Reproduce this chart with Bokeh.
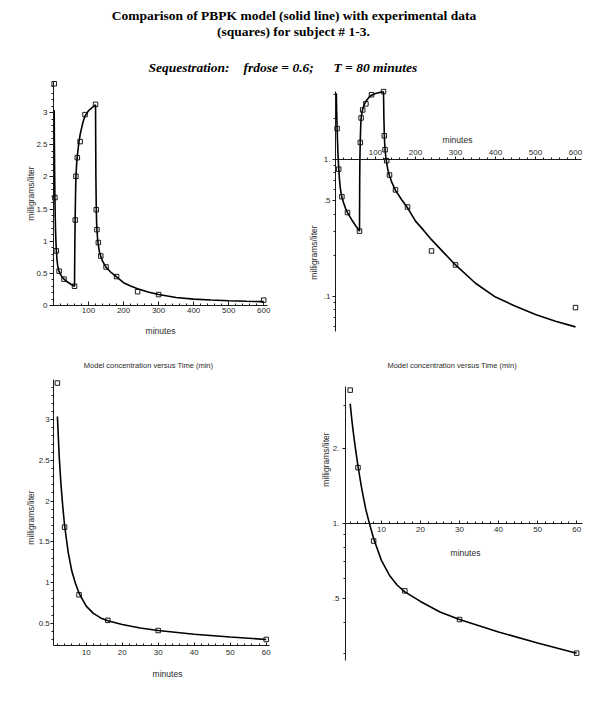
import numpy as np
from bokeh.plotting import figure
from bokeh.layouts import column, row
from bokeh.models import Range1d, FixedTicker, Label
from bokeh.embed import file_html
from bokeh.resources import INLINE

# ---------------- texts ----------------
TITLE_1 = "Comparison of PBPK model (solid line) with experimental data"
TITLE_2 = "(squares) for subject # 1-3."
SUB_PARTS = ["Sequestration:", "frdose = 0.6;", "T = 80 minutes"]
PANEL_TITLE = "Model concentration versus Time (min)"
X_LABEL = "minutes"
Y_LABEL = "milligrams/liter"

# ---------------- data ----------------
t_data = [2, 4, 8, 16, 30, 60, 62, 64, 68, 76, 90, 120, 122, 124, 128, 135, 150, 180, 240, 300, 600]
c_data = [3.45, 1.68, 0.85, 0.535, 0.41, 0.30, 1.33, 2.01, 2.30, 2.55, 2.97, 3.13, 1.49, 1.18, 0.98,
          0.77, 0.60, 0.45, 0.215, 0.17, 0.083]

t_model = [2, 2.5, 3, 3.5, 4, 5, 6, 7, 8, 10, 12, 14, 16, 20, 25, 30, 40, 50, 60,
           60.5, 61, 62, 63, 64, 66, 68, 72, 76, 84, 90, 100, 110, 120,
           120.5, 121, 122, 123, 124, 126, 128, 131, 135, 140, 150, 165, 180, 200, 220, 240,
           270, 300, 350, 400, 450, 500, 550, 600]
c_model = [3.04, 2.55, 2.2, 1.93, 1.70, 1.37, 1.14, 0.99, 0.87, 0.71, 0.62, 0.565, 0.53, 0.485, 0.44, 0.41,
           0.365, 0.33, 0.30,
           0.7, 1.0, 1.4, 1.75, 2.0, 2.2, 2.33, 2.52, 2.66, 2.85, 2.95, 3.03, 3.08, 3.12,
           2.5, 2.0, 1.55, 1.3, 1.17, 1.03, 0.94, 0.84, 0.76, 0.69, 0.595, 0.51, 0.445, 0.355, 0.305, 0.26,
           0.21, 0.17, 0.125, 0.099, 0.085, 0.074, 0.066, 0.060]

# ---------------- ticks ----------------
x_ticks_long = [100, 200, 300, 400, 500, 600]
x_minor_long = [v for v in range(20, 620, 20) if v % 100 != 0]
x_ticks_short = [10, 20, 30, 40, 50, 60]
x_minor_short = [v for v in range(2, 62, 2) if v % 10 != 0]
y_ticks_lin = [0, 0.5, 1, 1.5, 2, 2.5, 3]
y_labels_lin = ["0", "0.5", "1", "1.5", "2", "2.5", "3"]
y_minor_lin = [round(0.1 * i, 1) for i in range(1, 35) if i % 5 != 0]
y_ticks_log_a = [0.1, 0.5, 1]
y_labels_log_a = [".1", ".5", "1."]
y_minor_log_a = [0.06, 0.07, 0.08, 0.09, 0.2, 0.3, 0.4, 0.6, 0.7, 0.8, 0.9, 2, 3]
y_ticks_log_b = [0.5, 1, 2]
y_labels_log_b = [".5", "1.", "2."]
y_minor_log_b = [0.3, 0.4, 0.6, 0.7, 0.8, 0.9, 3]

# axis extents of each panel (as drawn in the original)
P1_X = (0, 610); P1_Y = (0, 3.49)
P2_X = (0, 615); P2_Y = (0.0558, 3.16)
P3_X = (1, 61); P3_Y = (0.226, 3.49)
P4_X = (0.8, 61.5); P4_Y = (0.279, 3.57)

SANS = "Liberation Sans"
SERIF = "Liberation Serif"
INK = "#1a1a1a"
TXT = "#2a2a2a"


def span(v0, p0, v1, p1, q0, q1, log=False):
    f = np.log10 if log else (lambda v: v)
    k = (f(v1) - f(v0)) / (p1 - p0)
    a = f(v0) + (q0 - p0) * k
    b = f(v0) + (q1 - p0) * k
    if log:
        a, b = 10 ** a, 10 ** b
    return a, b


def panel(left, top, w, h, xmap, ymap, ylog=False, xloc="below", border_top=0):
    x0, x1 = span(*xmap, left, left + w)
    ytop, ybot = span(*ymap, top + border_top, top + h, ylog)
    p = figure(width=w, height=h, x_range=Range1d(x0, x1), y_range=Range1d(ybot, ytop),
               y_axis_type="log" if ylog else "linear", x_axis_location=xloc,
               toolbar_location=None, output_backend="svg",
               min_border_left=0, min_border_right=0, min_border_top=border_top, min_border_bottom=0)
    p.outline_line_color = None
    p.grid.visible = False
    p.background_fill_color = "white"
    p.border_fill_color = "white"
    for ax in p.axis:
        ax.axis_line_color = INK
        ax.axis_line_width = 1
        ax.major_tick_line_color = INK
        ax.minor_tick_line_color = INK
        ax.major_label_text_font = SANS
        ax.major_label_text_font_size = "8px"
        ax.major_label_text_color = TXT
    p._box = (left, top + h)
    return p


def set_axis(ax, fixed, bounds, ticks, minor, t_in, t_out, m_in, m_out, standoff, labels=None):
    ax.fixed_location = fixed
    ax.bounds = bounds
    ax.ticker = FixedTicker(ticks=ticks, minor_ticks=minor)
    ax.major_tick_in = t_in
    ax.major_tick_out = t_out
    ax.minor_tick_in = m_in
    ax.minor_tick_out = m_out
    ax.major_label_standoff = standoff
    if labels is not None:
        ax.major_label_overrides = {k: s for k, s in zip(ticks, labels)}


def lab(p, X, Y, text, size="8.5px", angle=0.0, align="center", font=SANS, style="normal", color=TXT):
    left, bottom = p._box
    p.add_layout(Label(x=X - left, y=bottom - Y, x_units="screen", y_units="screen", text=text,
                       text_font=font, text_font_size=size, text_font_style=style,
                       text_color=color, text_align=align, text_baseline="middle", angle=angle))


def draw(p, t, c):
    p.line(t, c, line_color="black", line_width=1.6)


def marks(p, t, c):
    p.scatter(t, c, marker="square", size=4.5, fill_alpha=0, line_color="black", line_width=0.9)


t_short = [t for t in t_data if t <= 60]
c_short = [c for t, c in zip(t_data, c_data) if t <= 60]
tm_short = [t for t in t_model if t <= 60]
cm_short = [c for t, c in zip(t_model, c_model) if t <= 60]

# ---------------- title figure ----------------
pt = figure(width=600, height=80, x_range=Range1d(0, 1), y_range=Range1d(0, 1),
            x_axis_type=None, y_axis_type=None, toolbar_location=None, output_backend="svg",
            min_border_left=0, min_border_right=0, min_border_top=0, min_border_bottom=0)
pt.outline_line_color = None
pt.grid.visible = False
pt._box = (0, 80)
lab(pt, 293.5, 15, TITLE_1, size="13.5px", font=SERIF, style="bold", color="black")
lab(pt, 293, 31, TITLE_2, size="13.5px", font=SERIF, style="bold", color="black")
for xpos, part in zip([148, 243, 333], SUB_PARTS):
    lab(pt, xpos, 67, part, size="13.5px", font=SERIF, style="bold italic", color="black", align="left")

# ---------------- panel 1: linear, 0-600 ----------------
p1 = panel(0, 80, 300, 265, (0, 53, 610, 266.7), (0, 305, 3.49, 80.7))
set_axis(p1.xaxis[0], 0, P1_X, x_ticks_long, x_minor_long, 4, 0, 2, 0, 2)
set_axis(p1.yaxis[0], 0, P1_Y, y_ticks_lin, y_minor_lin, 0, 4, 0, 2, 2, y_labels_lin)
lab(p1, 160, 330, X_LABEL)
lab(p1, 30, 193, Y_LABEL, angle=np.pi / 2)
draw(p1, t_model, c_model)
marks(p1, t_data, c_data)

# ---------------- panel 2: log, 0-600 ----------------
p2 = panel(300, 80, 300, 265, (0, 335, 615, 581), (1, 159, 0.1, 296), ylog=True, xloc="above")
set_axis(p2.xaxis[0], 1, P2_X, x_ticks_long, x_minor_long, 0, 3, 0, 2, 2)
set_axis(p2.yaxis[0], 0, P2_Y, y_ticks_log_a, y_minor_log_a, 0, 3, 0, 2, 2, y_labels_log_a)
lab(p2, 457, 139, X_LABEL)
lab(p2, 313, 252, Y_LABEL, angle=np.pi / 2)
t_in2 = [t for t, c in zip(t_data, c_data) if c <= P2_Y[1]]
c_in2 = [c for c in c_data if c <= P2_Y[1]]
draw(p2, t_model, c_model)
marks(p2, t_in2, c_in2)

# ---------------- panel 3: linear, 0-60 ----------------
p3 = panel(0, 345, 300, 355, (1, 53.3, 61, 269.3), (0.226, 645, 3.49, 379.3))
set_axis(p3.xaxis[0], P3_Y[0], P3_X, x_ticks_short, x_minor_short, 3, 0, 2, 0, 4)
set_axis(p3.yaxis[0], P3_X[0], P3_Y, y_ticks_lin[1:], y_minor_lin[2:], 0, 3, 0, 2, 1, y_labels_lin[1:])
lab(p3, 148, 365, PANEL_TITLE, size="7.5px")
lab(p3, 167, 673, X_LABEL)
lab(p3, 30, 517, Y_LABEL, angle=np.pi / 2)
draw(p3, tm_short, cm_short)
marks(p3, t_short, c_short)

# ---------------- panel 4: log, 0-60 ----------------
p4 = panel(300, 345, 300, 355, (0.8, 345, 61.5, 582), (1, 523, 0.1, 771), ylog=True)
set_axis(p4.xaxis[0], 1, P4_X, x_ticks_short, x_minor_short, 3, 0, 2, 0, 3)
set_axis(p4.yaxis[0], P4_X[0], P4_Y, y_ticks_log_b, y_minor_log_b, 0, 3, 0, 2, 3, y_labels_log_b)
lab(p4, 451.6, 365, PANEL_TITLE, size="7.5px")
lab(p4, 465, 552, X_LABEL)
lab(p4, 325, 459, Y_LABEL, angle=np.pi / 2)
draw(p4, tm_short, cm_short)
marks(p4, t_short, c_short)

layout = column(pt, row(p1, p2), row(p3, p4))
open("out.html", "w").write(file_html(layout, INLINE))
